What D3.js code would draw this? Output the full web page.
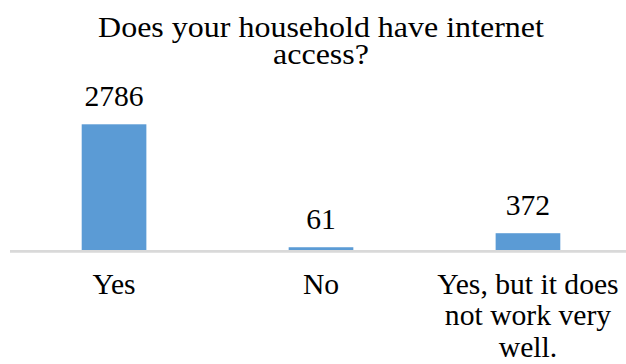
<!DOCTYPE html>
<meta charset="utf-8">
<head>
  <title>Internet access</title>
  <script src="https://cdnjs.cloudflare.com/ajax/libs/d3/7.8.5/d3.min.js"></script>
  <style>
    body { margin: 0; background: #fff; }
  </style>
</head>
<body>
  <div id="chart"></div>
  <script>
    var WIDTH = 626
    var HEIGHT = 364
    var FONT = "'Liberation Serif', 'Times New Roman', Times, serif"

    var titleLines = ["Does your household have internet", "access?"]
    var categories = ["Yes", "No", "Yes, but it does not work very well."]
    var categoryLines = [["Yes"], ["No"], ["Yes, but it does", "not work very", "well."]]
    var values = [2786, 61, 372]

    var svg = d3.select("#chart").append("svg")
      .attr("width", WIDTH)
      .attr("height", HEIGHT)
      .attr("font-family", FONT)

    var x = d3.scaleBand()
      .domain(categories)
      .range([10.5, 631.5])
      .paddingInner(0.6875)
      .paddingOuter(0.344)

    var y = d3.scaleLinear()
      .domain([0, 2786])
      .range([250, 124.3])

    // writes a (multi line) text centred on cx, first baseline at by
    // stretch: the source picture is squeezed a little in height
    function label(cx, by, lines, lineGap, size, stretch) {
      var t = svg.append("g")
        .attr("transform", "translate(" + cx + "," + by + ") scale(" + stretch + ",1)")
        .append("text")
        .attr("text-anchor", "middle")
        .attr("font-family", FONT)
        .attr("font-size", size)
        .attr("fill", "#000")
      t.selectAll("tspan")
        .data(lines)
        .enter().append("tspan")
        .attr("x", 0)
        .attr("dy", function(d, i) { return i === 0 ? 0 : lineGap })
        .text(function(d) { return d })
    }

    // title
    label(321, 37.3, titleLines, 27, 28.7, 1.115)

    // bars
    svg.selectAll(".bar")
      .data(values)
      .enter().append("rect")
      .attr("class", "bar")
      .attr("x", function(d, i) { return x(categories[i]) })
      .attr("y", function(d) { return y(d) })
      .attr("width", x.bandwidth())
      .attr("height", function(d) { return y(0) - y(d) })
      .attr("fill", "#5B9BD5")

    // axis line
    svg.append("line")
      .attr("x1", 10)
      .attr("x2", WIDTH)
      .attr("y1", y(0) + 1.4)
      .attr("y2", y(0) + 1.4)
      .attr("stroke", "#D9D9D9")
      .attr("stroke-width", 2.8)

    // data labels
    values.forEach(function(v, i) {
      label(x(categories[i]) + x.bandwidth() / 2, y(v) - 18, [String(v)], 0, 28.5, 1.04)
    })

    // category labels
    categoryLines.forEach(function(lines, i) {
      label(x(categories[i]) + x.bandwidth() / 2, 294, lines, 31.5, 28.5, 1.04)
    })
  </script>
</body>
